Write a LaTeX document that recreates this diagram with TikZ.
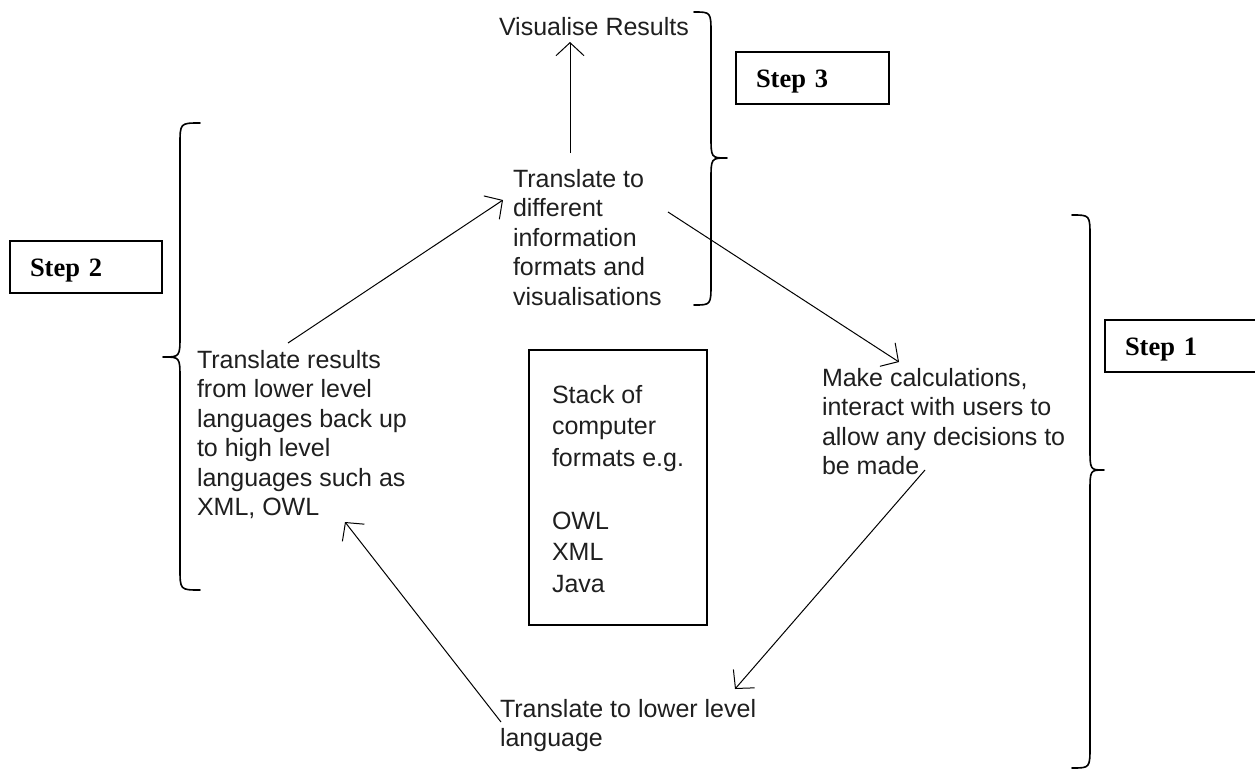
\documentclass[tikz,border=0pt]{standalone}
\usepackage{fontspec}
\usetikzlibrary{arrows.meta}
\newfontfamily\uifont{Liberation Sans}
\newfontfamily\stepfont{Liberation Serif}
% left-aligned block of lines whose reference point is the first baseline
\newcommand{\textlines}[1]{\begin{tabular}[t]{@{}l@{}}#1\end{tabular}}

\begin{document}
\begin{tikzpicture}[x=1pt,y=-1pt,
  every node/.style={inner sep=0pt, outer sep=0pt},
  label/.style={anchor=base west, text=black!88, font=\uifont\fontsize{25}{29.5}\selectfont},
  stepbox/.style={draw, line width=1.6pt, anchor=north west, align=left,
    inner xsep=20pt, minimum height=52pt,
    font=\stepfont\bfseries\fontsize{26.5}{30}\selectfont,
    text height=22pt, text depth=4pt},
  brace/.style={line width=1.6pt, line cap=round, line join=round},
  flow/.style={line width=1pt, -{Straight Barb[length=13pt,width=28pt,line width=1pt]}}
]
\useasboundingbox (0,0) rectangle (1255,771);
\fill[white] (0,0) rectangle (1255,771);

% text blocks of the cycle
\node[label] (vis) at (499,35) {Visualise Results};
\node[label] (trto) at (513,187) {\textlines{Translate to\\ different\\ information\\ formats and\\ visualisations}};
\node[label] (trres) at (197,368) {\textlines{Translate results\\ from lower level\\ languages back up\\ to high level\\ languages such as\\ XML, OWL}};
\node[label] (calc) at (822,386) {\textlines{Make calculations,\\ interact with users to\\ allow any decisions to\\ be made}};
\node[label] (lower) at (500,717) {\textlines{Translate to lower level\\ language}};

% central box listing the formats
\node[draw, line width=1.6pt, anchor=north west, minimum width=178pt, minimum height=275pt] (stack) at (529,350) {};
\node[label, font=\uifont\fontsize{25}{31.5}\selectfont] (stacktext) at (552,403) {\textlines{Stack of\\ computer\\ formats e.g.\\ \\ OWL\\ XML\\ Java}};

% step labels
\node[stepbox, text width=112pt] (step2) at (10,241) {Step 2};
\node[stepbox, text width=113pt] (step3) at (736,52) {Step 3};
\node[stepbox, text width=130pt] (step1) at (1105,320) {Step 1};

% arrow end points
\coordinate (upS) at (570,153);
\coordinate (upE) at (570,42);
\coordinate (leftS) at (288,343);
\coordinate (leftE) at (503,200);
\coordinate (rightS) at (668,212);
\coordinate (rightE) at (899,362);
\coordinate (downS) at (925,470);
\coordinate (downE) at (735,689);
\coordinate (backS) at (501,722);
\coordinate (backE) at (345,522);

\draw[flow] (upS) -- (upE);
\draw[flow] (leftS) -- (leftE);
\draw[flow] (rightS) -- (rightE);
\draw[flow] (downS) -- (downE);
\draw[flow] (backS) -- (backE);

% braces grouping the steps
\draw[brace] (694,12) .. controls (711,12) .. (711,34) -- (711,136)
  .. controls (711,158) .. (727,158) .. controls (711,158) .. (711,180)
  -- (711,283) .. controls (711,305) .. (694,305);
\draw[brace] (200,123) .. controls (180,123) .. (180,145) -- (180,335)
  .. controls (180,357) .. (163,357) .. controls (180,357) .. (180,379)
  -- (180,568) .. controls (180,590) .. (200,590);
\draw[brace] (1072,215) .. controls (1090,215) .. (1090,237) -- (1090,448)
  .. controls (1090,470) .. (1104,470) .. controls (1090,470) .. (1090,492)
  -- (1090,746) .. controls (1090,768) .. (1072,768);
\end{tikzpicture}
\end{document}
